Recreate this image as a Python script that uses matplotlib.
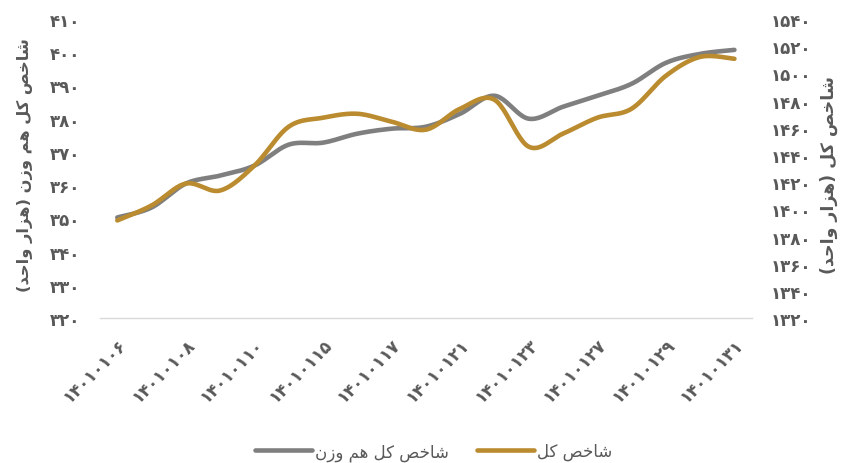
import numpy as np
import matplotlib
matplotlib.use("Agg")
import matplotlib.pyplot as plt

# ---------------- data ----------------
dates = ["14010106", "14010107", "14010108", "14010109", "14010110",
         "14010114", "14010115", "14010116", "14010117", "14010120",
         "14010121", "14010122", "14010123", "14010124", "14010127",
         "14010128", "14010129", "14010130", "14010131"]
equal_weight = [350.3, 353.3, 360.5, 362.9, 365.9, 372.2, 372.8, 375.5, 377.0, 377.6,
                381.5, 386.9, 380.0, 383.6, 386.9, 390.5, 396.8, 399.5, 400.7]
total_index = [1391.9, 1402.9, 1419.0, 1413.9, 1432.2, 1460.8, 1467.4, 1470.3, 1464.5, 1458.6,
               1474.0, 1480.6, 1446.1, 1455.7, 1467.4, 1474.0, 1498.2, 1512.1, 1510.7]
left_ticks = [320, 330, 340, 350, 360, 370, 380, 390, 400, 410]
right_ticks = [1320, 1340, 1360, 1380, 1400, 1420, 1440, 1460, 1480, 1500, 1520, 1540]
label_gray = "شاخص کل هم وزن"
label_gold = "شاخص کل"
ylabel_left = "شاخص کل هم وزن (هزار واحد)"
ylabel_right = "شاخص کل (هزار واحد)"

# ---------------- helpers ----------------
FORMS = {
    'ا': ('\uFE8D', '\uFE8E', None, None),
    'ح': ('\uFEA1', '\uFEA2', '\uFEA3', '\uFEA4'),
    'خ': ('\uFEA5', '\uFEA6', '\uFEA7', '\uFEA8'),
    'د': ('\uFEA9', '\uFEAA', None, None),
    'ر': ('\uFEAD', '\uFEAE', None, None),
    'ز': ('\uFEAF', '\uFEB0', None, None),
    'ش': ('\uFEB5', '\uFEB6', '\uFEB7', '\uFEB8'),
    'ص': ('\uFEB9', '\uFEBA', '\uFEBB', '\uFEBC'),
    'ک': ('\uFB8E', '\uFB8F', '\uFB90', '\uFB91'),
    'ل': ('\uFEDD', '\uFEDE', '\uFEDF', '\uFEE0'),
    'م': ('\uFEE1', '\uFEE2', '\uFEE3', '\uFEE4'),
    'ن': ('\uFEE5', '\uFEE6', '\uFEE7', '\uFEE8'),
    'ه': ('\uFEE9', '\uFEEA', '\uFEEB', '\uFEEC'),
    'و': ('\uFEED', '\uFEEE', None, None),
}
NON_JOIN_NEXT = set('ادرزو')


def shape(text):
    out = []
    for i, c in enumerate(text):
        if c not in FORMS:
            out.append(c)
            continue
        prev = text[i - 1] if i > 0 else None
        nxt = text[i + 1] if i + 1 < len(text) else None
        jp = prev in FORMS and prev not in NON_JOIN_NEXT
        jn = nxt in FORMS and c not in NON_JOIN_NEXT
        iso, fin, ini, med = FORMS[c]
        if jp and jn:
            g = med
        elif jp:
            g = fin
        elif jn:
            g = ini
        else:
            g = iso
        out.append(g)
    s = ''.join(out)[::-1]
    mirror = {'(': ')', ')': '('}
    return ''.join(mirror.get(ch, ch) for ch in s)


PDIG = str.maketrans("0123456789", "۰۱۲۳۴۵۶۷۸۹")


def fa(s):
    return str(s).translate(PDIG)


def smooth(x, y, n=24):
    x = np.asarray(x, float)
    y = np.asarray(y, float)
    px = np.concatenate([[x[0]], x, [x[-1]]])
    py = np.concatenate([[y[0]], y, [y[-1]]])
    t = np.linspace(0, 1, n)
    xs, ys = [], []
    for i in range(len(x) - 1):
        p0 = np.array([px[i], py[i]])
        p1 = np.array([px[i + 1], py[i + 1]])
        p2 = np.array([px[i + 2], py[i + 2]])
        p3 = np.array([px[i + 3], py[i + 3]])
        c1 = p1 + (p2 - p0) / 6
        c2 = p2 - (p3 - p1) / 6
        b = ((1 - t) ** 3)[:, None] * p1 + (3 * (1 - t) ** 2 * t)[:, None] * c1 \
            + (3 * (1 - t) * t ** 2)[:, None] * c2 + (t ** 3)[:, None] * p2
        xs.append(b[:, 0])
        ys.append(b[:, 1])
    return np.concatenate(xs), np.concatenate(ys)


# ---------------- plot ----------------
plt.rcParams['font.family'] = ['DejaVu Sans']
TXT = '#595959'
GRAY = '#7F7F7F'
GOLD = '#BA8B2F'

fig = plt.figure(figsize=(8.56, 4.64), dpi=100)
ax = fig.add_axes([0.117, 0.312, 0.761, 0.645])
ax2 = ax.twinx()

x = np.arange(len(dates))
sx, sy = smooth(x, equal_weight)
ax.plot(sx, sy, color=GRAY, lw=3.3, solid_capstyle='round', label=shape(label_gray))
sx2, sy2 = smooth(x, total_index)
ax2.plot(sx2, sy2, color=GOLD, lw=3.3, solid_capstyle='round', label=shape(label_gold))

ax.set_xlim(-0.5, len(dates) - 0.5)
ax.set_ylim(left_ticks[0], left_ticks[-1])
ax2.set_ylim(right_ticks[0], right_ticks[-1])

ax.set_yticks(left_ticks)
ax.set_yticklabels([fa(v) for v in left_ticks], fontweight='bold')
ax2.set_yticks(right_ticks)
ax2.set_yticklabels([fa(v) for v in right_ticks], fontweight='bold')

ax.set_xticks(x[::2])
ax.set_xticklabels([fa(d) for d in dates[::2]], rotation=45, ha='right',
                   rotation_mode='anchor', fontweight='bold')

for a in (ax, ax2):
    for sp in a.spines.values():
        sp.set_visible(False)
ax.spines['bottom'].set_visible(True)
ax.spines['bottom'].set_color('#D9D9D9')
ax.spines['bottom'].set_linewidth(1.0)

ax.tick_params(axis='y', length=0, pad=14, labelsize=12, labelcolor=TXT)
ax2.tick_params(axis='y', length=0, pad=14, labelsize=12, labelcolor=TXT)
ax.tick_params(axis='x', length=0, pad=12, labelsize=12, labelcolor=TXT)

fig.text(0.029, 0.644, shape(ylabel_left), rotation=90, ha='center', va='center',
         fontsize=11.7, color=TXT, fontweight='bold')
fig.text(0.968, 0.623, shape(ylabel_right), rotation=90, ha='center', va='center',
         fontsize=12.5, color=TXT, fontweight='bold')

h1, l1 = ax.get_legend_handles_labels()
h2, l2 = ax2.get_legend_handles_labels()
fig.legend(h1 + h2, l1 + l2, loc='center', bbox_to_anchor=(0.507, 0.025), ncol=2,
           frameon=False, prop={'size': 12}, labelcolor=TXT,
           handlelength=3.4, handletextpad=0.2, columnspacing=1.7)

fig.savefig('out.png', dpi=100)
